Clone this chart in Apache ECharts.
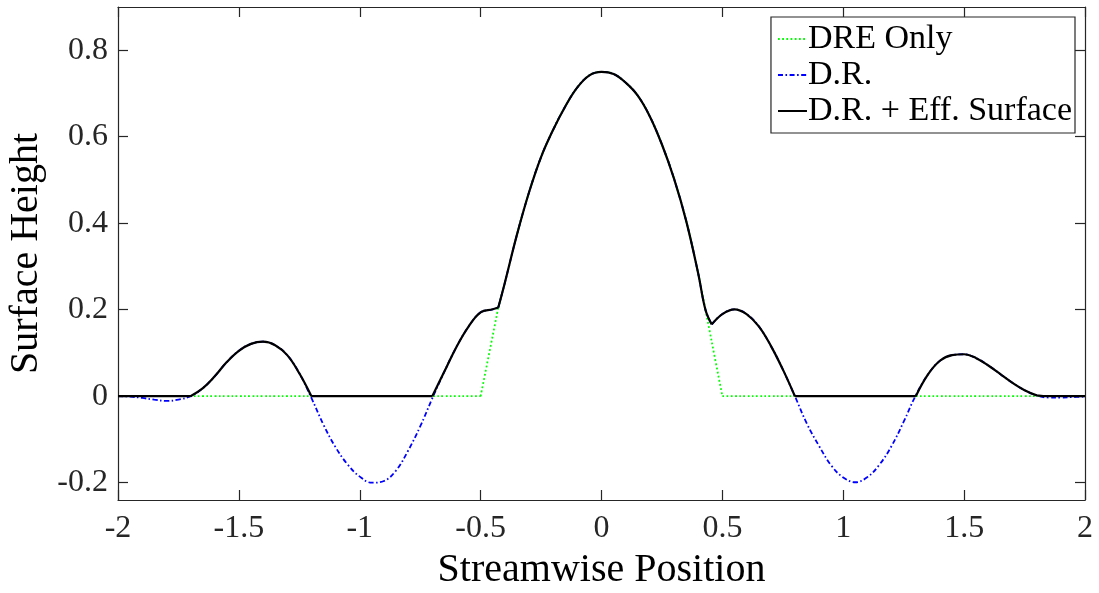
<!DOCTYPE html>
<html>
<head>
<meta charset="utf-8">
<script src="https://cdn.jsdelivr.net/npm/echarts@6/dist/echarts.min.js"></script>
<style>
  html, body { margin: 0; padding: 0; background: #fff; }
  #chart { width: 1099px; height: 593px; }
</style>
</head>
<body>
<div id="chart"></div>
<script>
// Streamwise positions shared by all three profiles
const positions = [
  -2.00, -1.95, -1.90, -1.85, -1.80, -1.75, -1.70, -1.65, -1.60, -1.55,
  -1.50, -1.45, -1.40, -1.35, -1.30, -1.25, -1.20, -1.15, -1.10, -1.05,
  -1.00, -0.95, -0.90, -0.85, -0.80, -0.75, -0.70, -0.65, -0.60, -0.55,
  -0.50, -0.45, -0.427, -0.40, -0.35, -0.30, -0.25, -0.20, -0.15, -0.10,
  -0.05, 0.00, 0.05, 0.10, 0.15, 0.20, 0.25, 0.30, 0.35, 0.40,
  0.43, 0.456, 0.50, 0.55, 0.60, 0.65, 0.70, 0.75, 0.80, 0.85,
  0.90, 0.95, 1.00, 1.05, 1.10, 1.15, 1.20, 1.25, 1.30, 1.35,
  1.40, 1.45, 1.50, 1.55, 1.60, 1.65, 1.70, 1.75, 1.80, 1.85,
  1.90, 1.95, 2.00
];

// DRE only: central hump with ramps, flat elsewhere
const dreOnly = [
  0, 0, 0, 0, 0, 0, 0, 0, 0, 0,
  0, 0, 0, 0, 0, 0, 0, 0, 0, 0,
  0, 0, 0, 0, 0, 0, 0, 0, 0, 0,
  0, 0.140, 0.205, 0.262, 0.373, 0.471, 0.553, 0.616, 0.670, 0.714,
  0.742, 0.750, 0.745, 0.725, 0.695, 0.647, 0.582, 0.503, 0.406, 0.284,
  0.200, 0.126, 0, 0, 0, 0, 0, 0, 0, 0,
  0, 0, 0, 0, 0, 0, 0, 0, 0, 0,
  0, 0, 0, 0, 0, 0, 0, 0, 0, 0,
  0, 0, 0
];

// D.R. profile (includes the negative troughs)
const drProfile = [
  0.000, -0.001, -0.004, -0.008, -0.011, -0.008, 0.000, 0.018, 0.046, 0.079,
  0.105, 0.121, 0.126, 0.118, 0.095, 0.053, -0.004, -0.066, -0.118, -0.158,
  -0.186, -0.200, -0.196, -0.172, -0.126, -0.070, -0.005, 0.057, 0.114, 0.161,
  0.194, 0.201, 0.205, 0.262, 0.373, 0.471, 0.553, 0.616, 0.670, 0.714,
  0.742, 0.750, 0.745, 0.725, 0.695, 0.647, 0.582, 0.503, 0.406, 0.284,
  0.200, 0.166, 0.190, 0.201, 0.190, 0.162, 0.117, 0.062, 0.000, -0.064,
  -0.115, -0.160, -0.188, -0.199, -0.187, -0.158, -0.115, -0.059, 0.002, 0.050,
  0.082, 0.095, 0.097, 0.088, 0.071, 0.051, 0.031, 0.014, 0.002, -0.003,
  -0.003, -0.002, -0.001
];

// D.R. + effective surface (troughs filled to zero)
const drEffSurface = [
  0, 0, 0, 0, 0, 0, 0, 0.018, 0.046, 0.079,
  0.105, 0.121, 0.126, 0.118, 0.095, 0.053, 0, 0, 0, 0,
  0, 0, 0, 0, 0, 0, 0, 0.057, 0.114, 0.161,
  0.194, 0.201, 0.205, 0.262, 0.373, 0.471, 0.553, 0.616, 0.670, 0.714,
  0.742, 0.750, 0.745, 0.725, 0.695, 0.647, 0.582, 0.503, 0.406, 0.284,
  0.200, 0.166, 0.190, 0.201, 0.190, 0.162, 0.117, 0.062, 0, 0,
  0, 0, 0, 0, 0, 0, 0, 0, 0, 0.050,
  0.082, 0.095, 0.097, 0.088, 0.071, 0.051, 0.031, 0.014, 0.002, 0,
  0, 0, 0
];

// Positions where each profile has a corner (the curve is smoothed between them)
const dreCorners = [-0.50, -0.427, 0.43, 0.50];
const drCorners = [-0.427, 0.456];
const effCorners = [-1.70, -1.20, -0.70, -0.427, 0.456, 0.80, 1.30, 1.80];

const yTicks = [-0.2, 0, 0.2, 0.4, 0.6, 0.8];
const seriesNames = ['DRE Only', 'D.R.', 'D.R. + Eff. Surface'];

const FONT = 'Liberation Serif';
const INK = '#262626';

// Build [x, y] pairs; at a corner the line is broken and restarted so the
// smoothing does not round the corner off.
function withCorners(ys, corners) {
  const out = [];
  positions.forEach((x, i) => {
    out.push([x, ys[i]]);
    if (corners.indexOf(x) >= 0 && i > 0 && i < positions.length - 1) {
      out.push([x, '-']);
      out.push([x, ys[i]]);
    }
  });
  return out;
}

const axisLine = { show: true, onZero: false, lineStyle: { color: INK, width: 1.2 } };
const tickIn = { show: true, inside: true, length: 10, lineStyle: { color: INK, width: 1.2 } };

const chart = echarts.init(document.getElementById('chart'), null, { renderer: 'canvas' });
chart.setOption({
  animation: false,
  backgroundColor: '#fff',
  grid: { left: 118, right: 14, top: 7, bottom: 93, outerBoundsMode: 'none', containLabel: false },
  legend: {
    orient: 'vertical',
    right: 24,
    top: 17,
    data: seriesNames,
    backgroundColor: '#fff',
    borderColor: INK,
    borderWidth: 1.2,
    padding: [4, 3, 4, 6],
    itemGap: 0,
    itemWidth: 29,
    itemHeight: 4,
    itemStyle: { color: 'rgba(0,0,0,0)', borderWidth: 0 },
    textStyle: { fontFamily: FONT, fontSize: 34, color: '#000', lineHeight: 36, padding: [0, 0, 0, -4] }
  },
  xAxis: [
    {
      type: 'value', min: -2, max: 2, interval: 0.5,
      name: 'Streamwise Position', nameLocation: 'middle', nameGap: 50,
      nameTextStyle: { fontFamily: FONT, fontSize: 40, color: '#000' },
      axisLine, axisTick: tickIn, splitLine: { show: false },
      axisLabel: { fontFamily: FONT, fontSize: 32, color: INK, margin: 13 }
    },
    {
      type: 'value', min: -2, max: 2, interval: 0.5, position: 'top',
      axisLine, axisTick: tickIn, splitLine: { show: false },
      axisLabel: { show: false }
    }
  ],
  yAxis: [
    {
      type: 'value', min: -0.24, max: 0.9,
      name: 'Surface Height', nameLocation: 'middle', nameGap: 71,
      nameTextStyle: { fontFamily: FONT, fontSize: 40, color: '#000' },
      axisLine,
      axisTick: Object.assign({ customValues: yTicks }, tickIn),
      splitLine: { show: false },
      axisLabel: { customValues: yTicks, fontFamily: FONT, fontSize: 32, color: INK, margin: 10 }
    },
    {
      type: 'value', min: -0.24, max: 0.9, position: 'right',
      axisLine,
      axisTick: Object.assign({ customValues: yTicks }, tickIn),
      splitLine: { show: false },
      axisLabel: { show: false, customValues: yTicks }
    }
  ],
  series: [
    {
      name: seriesNames[0], type: 'line', data: withCorners(dreOnly, dreCorners),
      symbol: 'none', smooth: 0.4, connectNulls: false, z: 2,
      lineStyle: { color: '#00ff00', width: 1.8, type: [1.8, 2.4] },
      itemStyle: { color: '#00ff00' }
    },
    {
      name: seriesNames[1], type: 'line', data: withCorners(drProfile, drCorners),
      symbol: 'none', smooth: 0.4, connectNulls: false, z: 3,
      lineStyle: { color: '#0000ff', width: 1.8, type: [5, 2.5, 1.6, 2.5] },
      itemStyle: { color: '#0000ff' }
    },
    {
      name: seriesNames[2], type: 'line', data: withCorners(drEffSurface, effCorners),
      symbol: 'none', smooth: 0.4, connectNulls: false, z: 4,
      lineStyle: { color: '#000', width: 2.2 },
      itemStyle: { color: '#000' }
    }
  ]
});
</script>
</body>
</html>
